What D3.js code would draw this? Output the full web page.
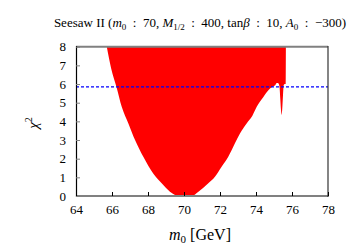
<!DOCTYPE html>
<meta charset="utf-8">
<style>
body { margin: 0; background: #fff; }
text { font-family: "Liberation Serif", "DejaVu Serif", serif; fill: #000; }
</style>
<body>
<script src="https://cdn.jsdelivr.net/npm/d3@7"></script>
<script>
// lower edge of the allowed region: chi2 min vs m0
var m0 = [65.71, 65.95, 66.26, 66.54, 66.91, 67.28, 67.74, 68.29, 68.76, 69.22, 69.5, 69.7, 70.0, 70.3, 70.43,
          70.8, 71.35, 71.72, 72.09, 72.46, 72.83, 73.11, 73.48, 73.8, 74.04, 74.41, 74.78, 74.96,
          75.08, 75.15, 75.22, 75.3, 75.35, 75.39, 75.42, 75.46, 75.5, 75.54, 75.6, 75.65, 75.66];
var chi2 = [8, 6.85, 5.8, 4.78, 3.89, 3.0, 2.1, 1.21, 0.68, 0.23, 0.06, 0, 0, 0, 0,
            0.23, 0.68, 1.03, 1.57, 2.1, 2.82, 3.35, 3.89, 4.3, 4.78, 5.31, 5.76, 5.88,
            5.95, 6.05, 6.05, 5.9, 5.2, 4.6, 4.35, 4.7, 5.4, 5.95, 6.0, 6.0, 8];
var xTicks = [64, 66, 68, 70, 72, 74, 76, 78];
var yTicks = [0, 1, 2, 3, 4, 5, 6, 7, 8];
var cut = 5.85;

var W = 354, H = 247;
var svg = d3.select("body").append("svg").attr("width", W).attr("height", H);

var x = d3.scaleLinear().domain([64, 78]).range([76, 328]);
var y = d3.scaleLinear().domain([0, 8]).range([196, 46.7]);

var pts = m0.map(function (d, i) { return {m: d, c: chi2[i]}; });

svg.append("clipPath").attr("id", "clip")
  .append("rect").attr("x", 76).attr("y", 46.7).attr("width", 252).attr("height", 149.3);

svg.append("path")
  .datum(pts)
  .attr("clip-path", "url(#clip)")
  .attr("fill", "#ff0000")
  .attr("d", d3.area()
    .curve(d3.curveMonotoneX)
    .x(function (d) { return x(d.m); })
    .y0(y(8))
    .y1(function (d) { return y(Math.min(d.c, 8)); }));

// 95% line
svg.append("line")
  .attr("x1", x(64)).attr("x2", x(78))
  .attr("y1", y(cut)).attr("y2", y(cut))
  .attr("stroke", "#0000ff").attr("stroke-width", 1.2)
  .attr("stroke-dasharray", "3,2");

// frame
svg.append("line").attr("x1", 76).attr("x2", 328).attr("y1", 46.7).attr("y2", 46.7)
  .attr("stroke", "#808080").attr("stroke-width", 2);
svg.append("line").attr("x1", 76).attr("x2", 328).attr("y1", 196).attr("y2", 196)
  .attr("stroke", "#808080").attr("stroke-width", 2);
svg.append("line").attr("x1", 76.5).attr("x2", 76.5).attr("y1", 46).attr("y2", 197)
  .attr("stroke", "#000").attr("stroke-width", 1.2);
svg.append("line").attr("x1", 328).attr("x2", 328).attr("y1", 46).attr("y2", 197)
  .attr("stroke", "#333").attr("stroke-width", 1.2);

// axes
var xa = svg.append("g").attr("transform", "translate(0,196)")
  .call(d3.axisBottom(x).tickValues(xTicks).tickSizeInner(-4).tickSizeOuter(0).tickPadding(9));
var ya = svg.append("g").attr("transform", "translate(76,0)")
  .call(d3.axisLeft(y).tickValues(yTicks).tickSizeInner(-4).tickSizeOuter(0).tickPadding(10));
[xa, ya].forEach(function (g) {
  g.select(".domain").remove();
  g.selectAll("text").style("font-size", "13px").style("font-family", "'Liberation Serif', serif");
});
xa.selectAll("line").attr("stroke", "#000");
ya.selectAll("line").attr("stroke", "#808080");

// title
var sp = "\u2002:\u2002";
var t = svg.append("text").attr("x", 200).attr("y", 27).attr("text-anchor", "middle")
  .style("font-size", "13px");
t.append("tspan").text("Seesaw II (");
t.append("tspan").style("font-style", "italic").text("m");
t.append("tspan").attr("dy", 3).style("font-size", "9px").text("0");
t.append("tspan").attr("dy", -3).text(sp + "70, ");
t.append("tspan").style("font-style", "italic").text("M");
t.append("tspan").attr("dy", 3).style("font-size", "9px").text("1/2");
t.append("tspan").attr("dy", -3).text(sp + "400, tan");
t.append("tspan").style("font-style", "italic").text("β");
t.append("tspan").text(sp + "10, ");
t.append("tspan").style("font-style", "italic").text("A");
t.append("tspan").attr("dy", 3).style("font-size", "9px").text("0");
t.append("tspan").attr("dy", -3).text(sp + "−300)");

// x label
var xl = svg.append("text").attr("x", 200).attr("y", 240).attr("text-anchor", "middle")
  .style("font-size", "16px");
xl.append("tspan").style("font-style", "italic").text("m");
xl.append("tspan").attr("dy", 3).style("font-size", "11px").text("0");
xl.append("tspan").attr("dy", -3).text(" [GeV]");

// y label
var yl = svg.append("text").attr("transform", "translate(38,123) rotate(-90)")
  .attr("text-anchor", "middle").style("font-size", "15px");
yl.append("tspan").style("font-style", "italic").text("χ");
yl.append("tspan").attr("dy", -6).style("font-size", "10px").text("2");
</script>
</body>
